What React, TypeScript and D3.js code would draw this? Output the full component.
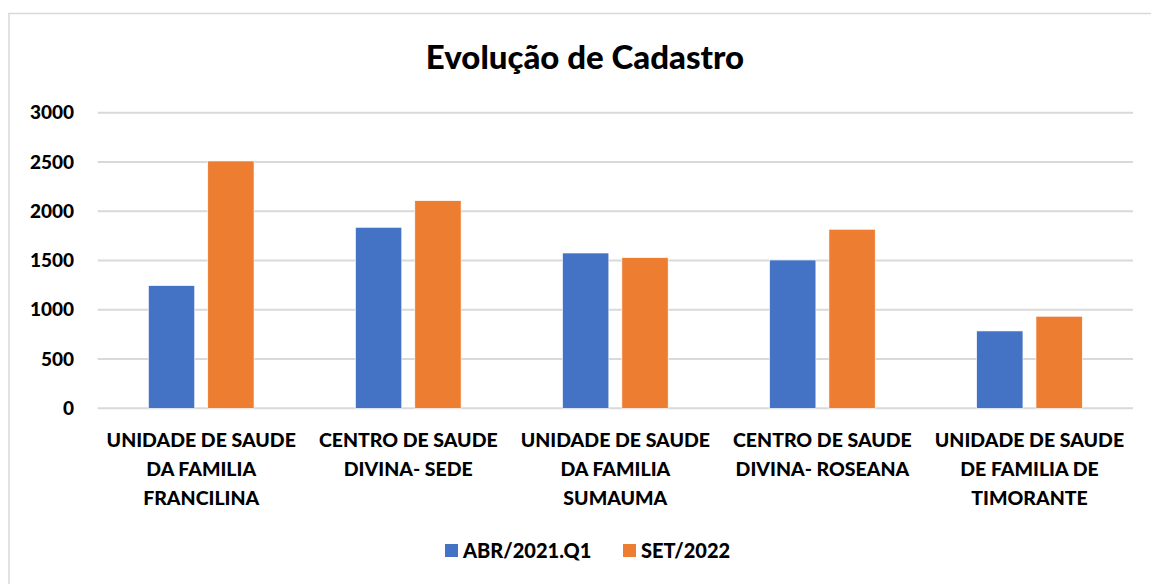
import React from 'react'
import * as d3 from 'd3'

// categorias (cada uma quebrada em linhas como no eixo original)
const categories = [
    ['UNIDADE DE SAUDE', 'DA FAMILIA', 'FRANCILINA'],
    ['CENTRO DE SAUDE', 'DIVINA- SEDE'],
    ['UNIDADE DE SAUDE', 'DA FAMILIA', 'SUMAUMA'],
    ['CENTRO DE SAUDE', 'DIVINA- ROSEANA'],
    ['UNIDADE DE SAUDE', 'DE FAMILIA DE', 'TIMORANTE'],
]
const seriesNames = ['ABR/2021.Q1', 'SET/2022']
const abr2021 = [1245, 1837, 1576, 1505, 785]
const set2022 = [2510, 2107, 1529, 1817, 934]
const yTicks = [0, 500, 1000, 1500, 2000, 2500, 3000]

const colors = ['#4472C4', '#ED7D31']
const FONT = 'Lato, "Open Sans", sans-serif'

const App = () => {
    const w = 1151, h = 584
    const left = 97.7, right = 1133
    const top = 112.7, bottom = 408.3

    const values = [abr2021, set2022]
    const idx = d3.range(categories.length)

    const x0 = d3.scaleBand<number>().domain(idx).range([left, right]).paddingInner(0.49).paddingOuter(0.245)
    const x1 = d3.scaleBand<number>().domain([0, 1]).range([0, x0.bandwidth()]).paddingInner(0.22)
    const y = d3.scaleLinear().domain([0, 3000]).range([bottom, top])

    return (
        <svg width={w} height={h} style={{ position: 'absolute', left: 0, top: 0, background: '#fff' }}
            fontFamily={FONT} fontWeight={900}>
            <rect x={9} y={13.5} width={w + 20} height={h + 20} fill="#fff" stroke="#d9d9d9" strokeWidth={1.5} />

            <text x={585} y={69} textAnchor="middle" fontSize={33} fill="#000">Evolução de Cadastro</text>

            {/* grade + eixo Y */}
            {yTicks.map(t => (
                <g key={t}>
                    <line x1={left} x2={right} y1={y(t)} y2={y(t)} stroke="#d9d9d9" strokeWidth={2} />
                    <text x={74} y={y(t)} dy="0.35em" textAnchor="end" fontSize={19} fill="#000">{t}</text>
                </g>
            ))}

            {/* barras */}
            {idx.map(i => (
                <g key={i} transform={`translate(${x0(i)},0)`}>
                    {values.map((s, j) => (
                        <rect key={j} x={x1(j)} y={y(s[i])} width={x1.bandwidth()} height={bottom - y(s[i])}
                            fill={colors[j]} stroke="#fff" strokeWidth={0.6} />
                    ))}
                </g>
            ))}

            {/* rótulos das categorias */}
            {idx.map(i => (
                <text key={i} x={(x0(i) ?? 0) + x0.bandwidth() / 2} y={447} textAnchor="middle" fontSize={19.5} fill="#000">
                    {categories[i].map((line, k) => (
                        <tspan key={k} x={(x0(i) ?? 0) + x0.bandwidth() / 2} y={447 + k * 29}>{line}</tspan>
                    ))}
                </text>
            ))}

            {/* legenda */}
            {seriesNames.map((name, j) => {
                const lx = j === 0 ? 445 : 623
                return (
                    <g key={name} transform={`translate(${lx},544)`}>
                        <rect width={13} height={13} fill={colors[j]} />
                        <text x={18} y={13.5} fontSize={20} fill="#000">{name}</text>
                    </g>
                )
            })}
        </svg>
    )
}

export default App
